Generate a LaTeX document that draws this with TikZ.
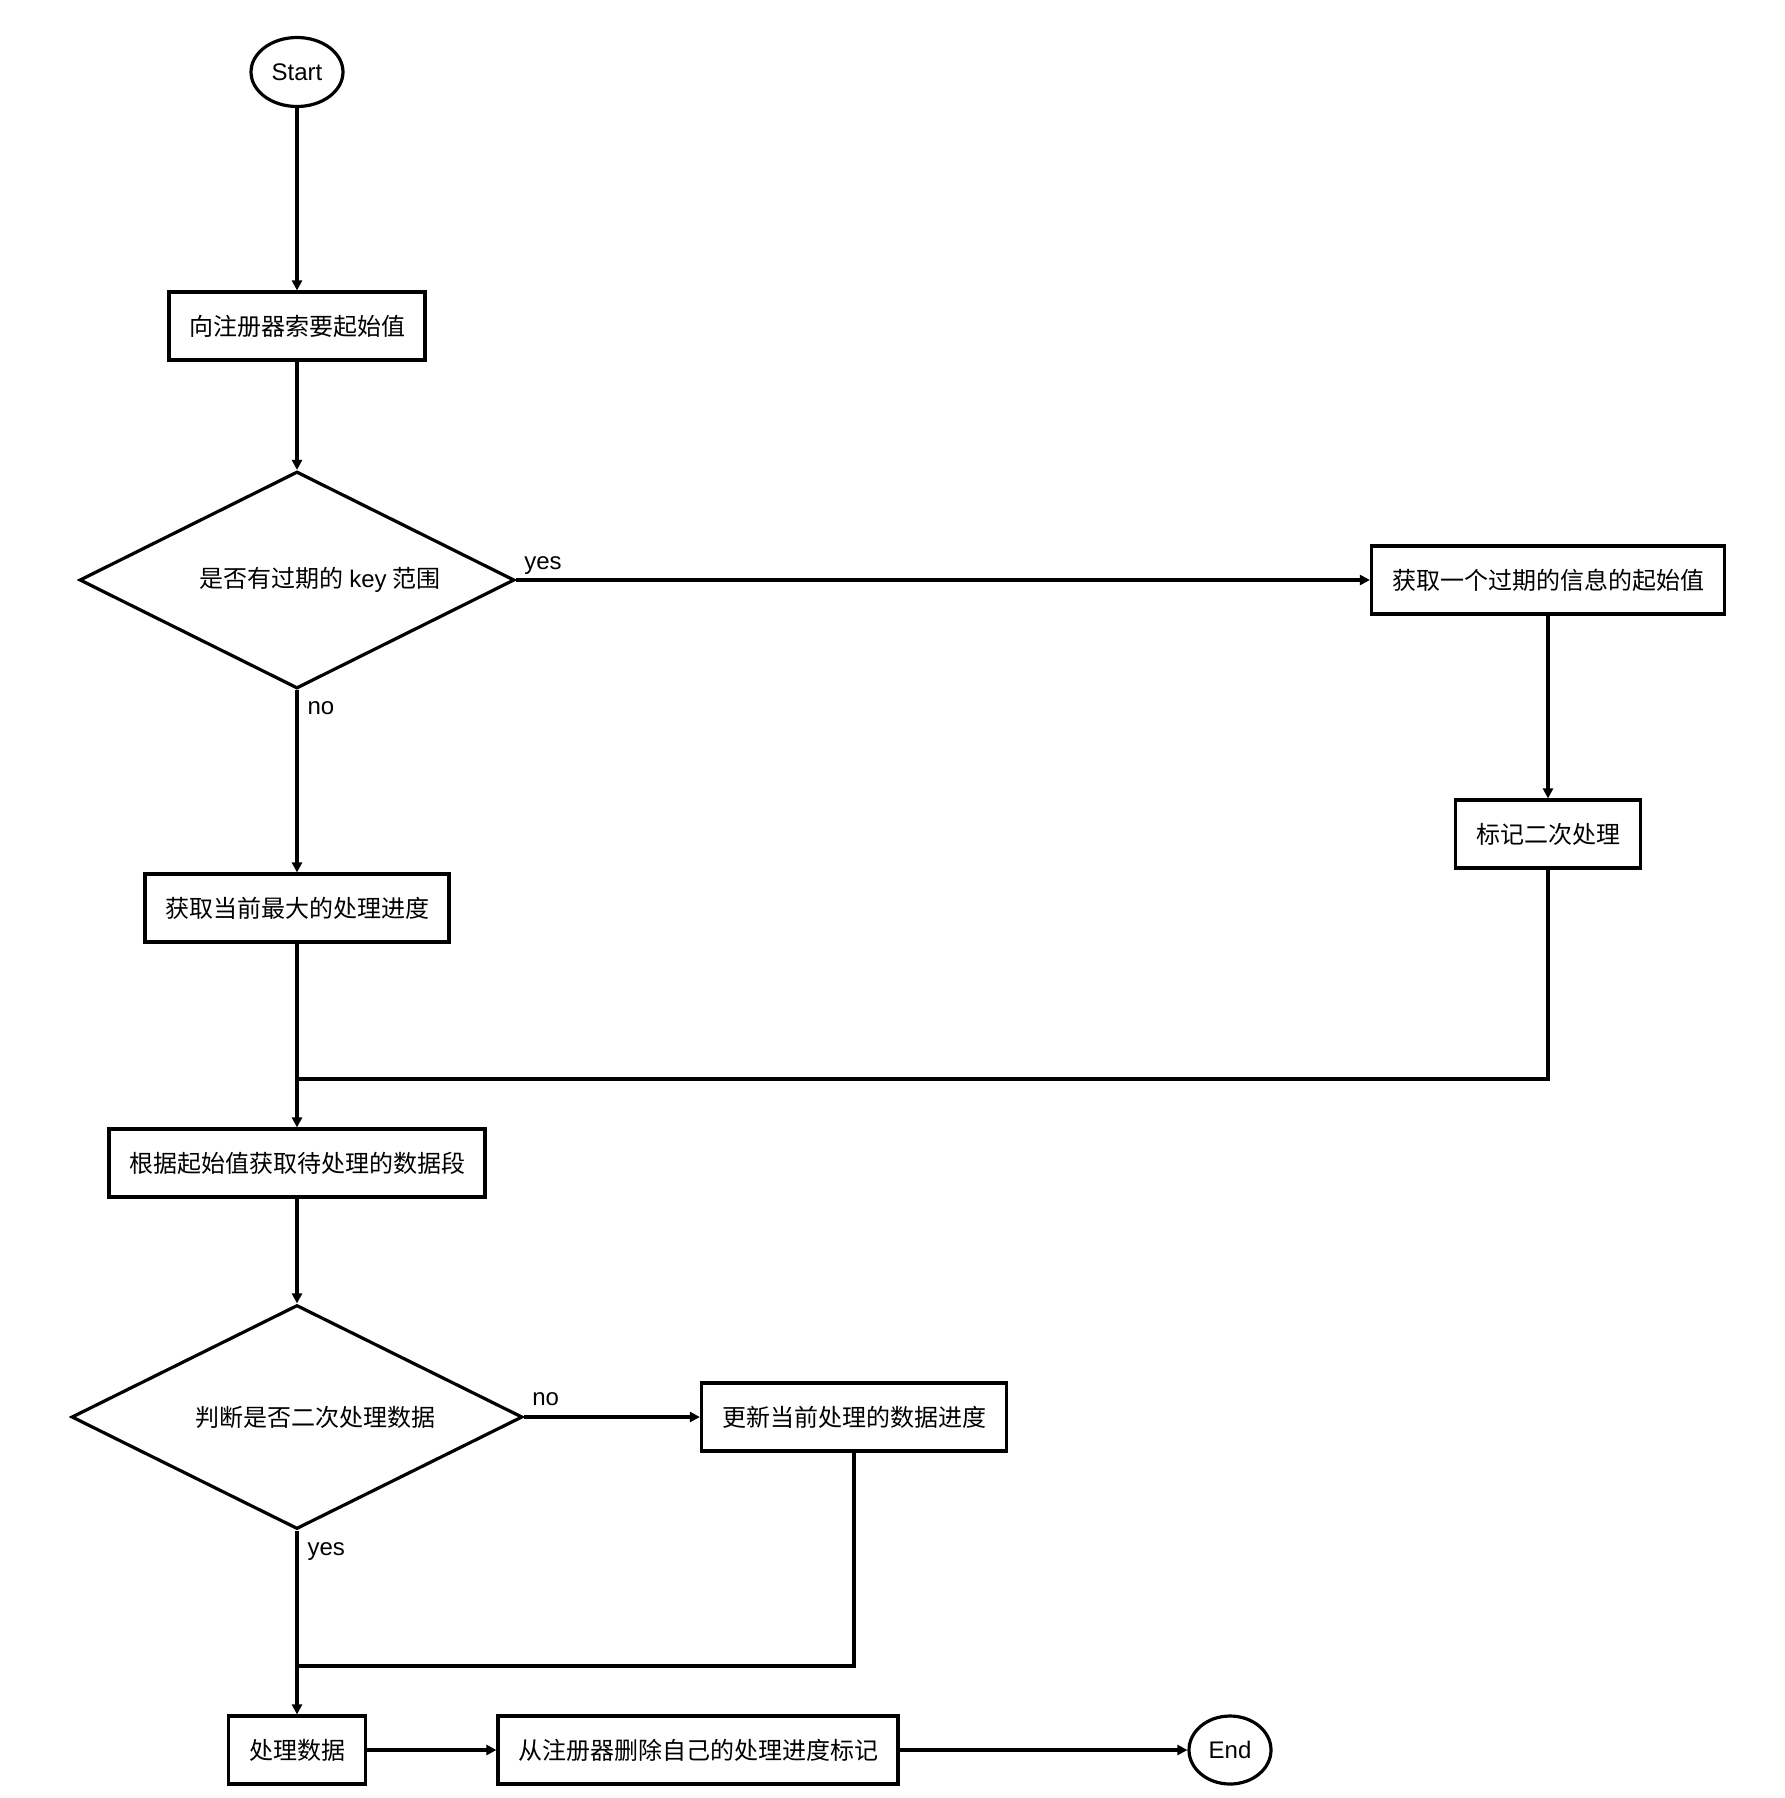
\documentclass[tikz,border=0pt]{standalone}
\usepackage{fontspec}
\setmainfont{Liberation Sans}
\newfontfamily\cjk{Noto Sans CJK SC}
\usetikzlibrary{arrows.meta,shapes.geometric}

\begin{document}
\begin{tikzpicture}[
  x=0.5pt, y=-0.5pt,
  >={Triangle[length=5pt,width=5pt]},
  line width=1.6pt,
  box/.style={rectangle, draw=black, fill=white, line width=1.6pt,
    minimum height=34pt, inner sep=0pt, font=\cjk\fontsize{12}{14}\selectfont},
  decision/.style={diamond, draw=black, fill=white, line width=1.6pt,
    aspect=2, inner sep=0pt, font=\cjk\fontsize{12}{14}\selectfont},
  terminal/.style={ellipse, draw=black, fill=white, line width=1.6pt,
    minimum width=46pt, minimum height=34.5pt, inner sep=0pt,
    font=\fontsize{12}{14}\selectfont},
  edgelabel/.style={font=\fontsize{12}{14}\selectfont, inner sep=2pt},
]
  \useasboundingbox (0,0) rectangle (1784,1798);

  \node[terminal] (start) at (297,72) {Start};
  \node[box, minimum width=128pt] (ask) at (297,326) {向注册器索要起始值};
  \node[decision, minimum width=217.5pt, minimum height=108.5pt] (expired) at (297,580)
    {\hspace*{23pt}是否有过期的 {\rmfamily key} 范围};
  \node[box, minimum width=176.5pt] (getold) at (1548,580) {获取一个过期的信息的起始值};
  \node[box, minimum width=92.5pt] (mark) at (1548,834) {标记二次处理};
  \node[box, minimum width=152pt] (getmax) at (297,908) {获取当前最大的处理进度};
  \node[box, minimum width=188pt] (segment) at (297,1163) {根据起始值获取待处理的数据段};
  \node[decision, minimum width=225.5pt, minimum height=112pt] (second) at (297,1417)
    {\hspace*{18pt}判断是否二次处理数据};
  \node[box, minimum width=152.5pt] (update) at (854,1417) {更新当前处理的数据进度};
  \node[box, minimum width=68.5pt] (process) at (297,1750) {处理数据};
  \node[box, minimum width=200pt] (remove) at (698,1750) {从注册器删除自己的处理进度标记};
  \node[terminal, minimum width=41pt, minimum height=34pt] (end) at (1230,1750) {End};

  \coordinate (join1) at (297,1079);
  \coordinate (join2) at (297,1666);

  \draw[->] (start) -- (ask);
  \draw[->] (ask) -- (expired);
  \draw[->] (expired) -- node[edgelabel, pos=0, anchor=south west, xshift=1.3pt] {yes} (getold);
  \draw[->] (getold) -- (mark);
  \draw[->] (expired) -- node[edgelabel, pos=0, anchor=north west, xshift=2.5pt, yshift=-3pt] {no} (getmax);
  \draw (mark) -- (mark |- join1) -- (join1);
  \draw[->] (getmax) -- (segment);
  \draw[->] (segment) -- (second);
  \draw[->] (second) -- node[edgelabel, pos=0, anchor=south west, xshift=1.3pt, yshift=3pt] {no} (update);
  \draw[->] (second) -- node[edgelabel, pos=0, anchor=north west, xshift=2.5pt, yshift=-3pt] {yes} (process);
  \draw (update) -- (update |- join2) -- (join2);
  \draw[->] (process) -- (remove);
  \draw[->] (remove) -- (end);
\end{tikzpicture}
\end{document}
